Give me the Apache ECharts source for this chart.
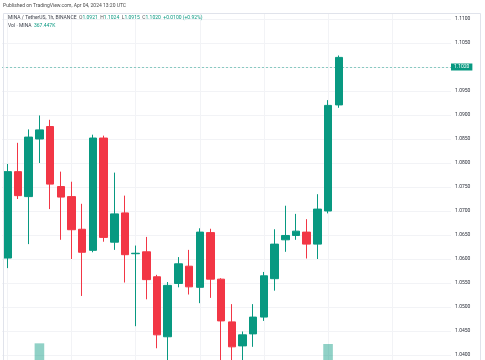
<!DOCTYPE html>
<html><head><meta charset="utf-8">
<script src="https://cdn.jsdelivr.net/npm/echarts@6/dist/echarts.min.js"></script>
<style>html,body{margin:0;padding:0;background:#fff}#c{width:485px;height:360px}</style>
</head><body><div id="c"></div>
<script>
// Hourly candles, MINA / TetherUS 1h (Apr 03 06:00 -> Apr 04 13:00)
const categories = [
 '04-03 06:00','04-03 07:00','04-03 08:00','04-03 09:00','04-03 10:00','04-03 11:00',
 '04-03 12:00','04-03 13:00','04-03 14:00','04-03 15:00','04-03 16:00','04-03 17:00',
 '04-03 18:00','04-03 19:00','04-03 20:00','04-03 21:00','04-03 22:00','04-03 23:00',
 '04-04 00:00','04-04 01:00','04-04 02:00','04-04 03:00','04-04 04:00','04-04 05:00',
 '04-04 06:00','04-04 07:00','04-04 08:00','04-04 09:00','04-04 10:00','04-04 11:00',
 '04-04 12:00','04-04 13:00'
];
// empty future slots on the right of the chart
const futureSlots = ['04-04 14:00','04-04 15:00','04-04 16:00','04-04 17:00','04-04 18:00',
 '04-04 19:00','04-04 20:00','04-04 21:00','04-04 22:00','04-04 23:00'];
const opens  = [1.0602,1.0782,1.0730,1.0850,1.0876,1.0751,1.0730,1.0662,1.0618,1.0852,1.0635,1.0696,
                1.0611,1.0615,1.0563,1.0438,1.0549,1.0585,1.0541,1.0655,1.0558,1.0469,1.0419,1.0444,
                1.0479,1.0559,1.0640,1.0649,1.0656,1.0631,1.0700,1.0921];
const closes = [1.0782,1.0732,1.0854,1.0869,1.0756,1.0729,1.0661,1.0614,1.0852,1.0645,1.0694,1.0609,
                1.0612,1.0557,1.0442,1.0545,1.0590,1.0542,1.0656,1.0558,1.0471,1.0417,1.0442,1.0479,
                1.0565,1.0631,1.0649,1.0658,1.0631,1.0704,1.0920,1.1020];
const lows   = [1.0581,1.0725,1.0631,1.0800,1.0704,1.0640,1.0600,1.0523,1.0614,1.0636,1.0619,1.0551,
                1.0460,1.0516,1.0414,1.0380,1.0541,1.0526,1.0508,1.0519,1.0380,1.0380,1.0380,1.0417,
                1.0471,1.0534,1.0615,1.0640,1.0601,1.0600,1.0695,1.0915];
const highs  = [1.0798,1.0842,1.0870,1.0899,1.0890,1.0782,1.0761,1.0715,1.0859,1.0857,1.0780,1.0732,
                1.0628,1.0646,1.0567,1.0552,1.0604,1.0619,1.0664,1.0663,1.0560,1.0506,1.0449,1.0506,
                1.0573,1.0662,1.0711,1.0694,1.0683,1.0735,1.0931,1.1024];
// volume in thousands of MINA (most bars sit below the visible crop)
const volumesK = [180,150,210,700,260,140,170,230,390,330,200,240,
                  310,220,350,380,150,120,240,200,330,290,170,160,
                  250,230,110,90,120,220,690,367.447];
const priceAxisMin = 1.035, priceAxisMax = 1.115, priceAxisStep = 0.005;

const UP = '#089981', DOWN = '#F23645';
const FONT = 'Roboto, "Liberation Sans", sans-serif';
const allCats = categories.concat(futureSlots);
const candleData = opens.map((o, i) => [o, closes[i], lows[i], highs[i]]);
const li = opens.length - 1;
const lastO = opens[li], lastH = highs[li], lastL = lows[li], lastC = closes[li];
const chg = lastC - closes[li - 1];
const chgPct = chg / closes[li - 1] * 100;
const sign = v => (v >= 0 ? '+' : '-');
const chgCol = chg >= 0 ? 'g' : 'r';

const chart = echarts.init(document.getElementById('c'), null, {renderer: 'canvas'});
chart.setOption({
  animation: false,
  backgroundColor: '#ffffff',
  grid: [
    {left: 2, width: 449, top: -5, height: 384, outerBoundsMode: 'none', containLabel: false},
    {left: 2, width: 449, top: 290, height: 100, outerBoundsMode: 'none', containLabel: false}
  ],
  xAxis: [
    {type: 'category', data: allCats, boundaryGap: true,
     axisLine: {show: false}, axisTick: {show: false}, axisLabel: {show: false},
     splitLine: {show: true, interval: 5, alignWithLabel: true, lineStyle: {color: '#f2f3f6', width: 1}}},
    {type: 'category', gridIndex: 1, data: allCats, boundaryGap: true,
     axisLine: {show: false}, axisTick: {show: false}, axisLabel: {show: false}, splitLine: {show: false}}
  ],
  yAxis: [
    {type: 'value', position: 'right', min: priceAxisMin, max: priceAxisMax, interval: priceAxisStep,
     axisLine: {show: false}, axisTick: {show: false},
     axisLabel: {fontSize: 5, color: '#2a2e39', margin: 4, fontFamily: FONT, formatter: v => v.toFixed(4)},
     splitLine: {show: true, lineStyle: {color: '#f2f3f6', width: 1}}},
    {type: 'value', gridIndex: 1, min: 0, max: 1500, show: false, splitLine: {show: false}}
  ],
  series: [
    {type: 'bar', xAxisIndex: 1, yAxisIndex: 1, data: volumesK, barWidth: 9.6, z: 1,
     itemStyle: {color: 'rgba(8,153,129,0.45)'}},
    {type: 'candlestick', xAxisIndex: 0, yAxisIndex: 0, data: candleData, barWidth: 8, z: 3,
     itemStyle: {color: UP, color0: DOWN, borderColor: UP, borderColor0: DOWN, borderWidth: 1},
     markLine: {
       silent: true, symbol: ['none', 'none'], animation: false,
       data: [{yAxis: lastC}],
       lineStyle: {color: 'rgba(8,153,129,0.45)', type: [2, 2], width: 1},
       label: {show: true, position: 'end', distance: 0, formatter: lastC.toFixed(4),
               backgroundColor: UP, color: '#ffffff', fontSize: 5, fontFamily: FONT, padding: [1, 3, 1, 3]}
     }}
  ],
  graphic: [
    {type: 'rect', z: 100, shape: {x: 0, y: -10, width: 485, height: 23}, style: {fill: '#ffffff'}},
    {type: 'rect', z: 101, shape: {x: 3.5, y: 13.5, width: 477, height: 360},
     style: {fill: null, stroke: '#e0e3eb', lineWidth: 1}},
    {type: 'text', z: 102, x: 3, y: 6,
     style: {text: 'Published on TradingView.com, Apr 04, 2024 13:20 UTC', fontSize: 5, fontFamily: FONT,
             fill: '#4a4a4a', verticalAlign: 'middle'}},
    {type: 'text', z: 102, x: 8, y: 18,
     style: {
       text: '{d|MINA / TetherUS, 1h, BINANCE}  {k|O}{g|' + lastO.toFixed(4) + '}  {k|H}{g|' + lastH.toFixed(4) +
             '}  {k|L}{g|' + lastL.toFixed(4) + '}  {k|C}{g|' + lastC.toFixed(4) + '}  {' + chgCol + '|' +
             sign(chg) + Math.abs(chg).toFixed(4) + ' (' + sign(chg) + Math.abs(chgPct).toFixed(2) + '%)}',
       fontSize: 5, fontFamily: FONT, verticalAlign: 'middle',
       rich: {d: {fill: '#3a3e49', fontSize: 5, fontFamily: FONT}, k: {fill: '#555', fontSize: 5, fontFamily: FONT},
              g: {fill: UP, fontSize: 5, fontFamily: FONT}, r: {fill: DOWN, fontSize: 5, fontFamily: FONT}}
     }},
    {type: 'text', z: 102, x: 8, y: 26,
     style: {
       text: '{d|Vol · MINA}  {g|' + volumesK[li].toFixed(3) + 'K}',
       fontSize: 5, fontFamily: FONT, verticalAlign: 'middle',
       rich: {d: {fill: '#3a3e49', fontSize: 5, fontFamily: FONT}, g: {fill: UP, fontSize: 5, fontFamily: FONT}}
     }}
  ]
});
</script></body></html>
